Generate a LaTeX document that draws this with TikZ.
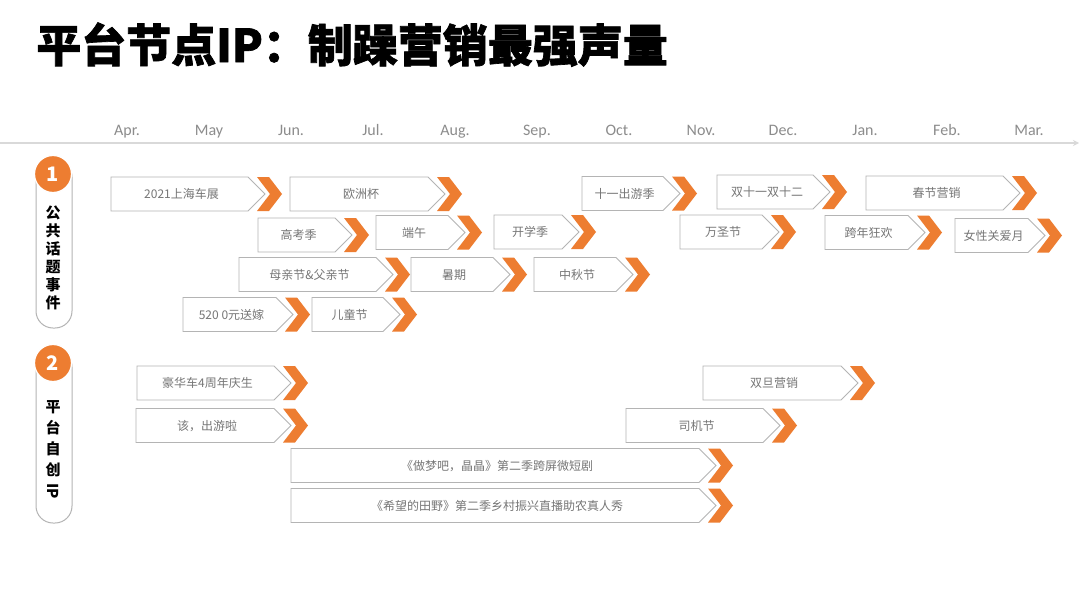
\documentclass[tikz,border=0pt]{standalone}
\usepackage{fontspec}
\setmainfont{Carlito}
\newfontfamily\cjk{Noto Sans CJK SC}
\newfontfamily\cjkheavy{Noto Sans CJK SC}[FakeBold=1.5]
\usetikzlibrary{arrows.meta}
\definecolor{myorange}{HTML}{ED7D31}
\definecolor{boxgray}{HTML}{B4B4B4}
\definecolor{txtgray}{HTML}{767676}
\definecolor{axisgray}{HTML}{D9D9D9}
\definecolor{monthgray}{HTML}{8C8C8C}
\tikzset{
  boxline/.style={draw=boxgray, line width=0.9pt, fill=white, line join=miter},
  chev/.style={fill=myorange},
  evtext/.style={anchor=base, inner sep=0pt, text=txtgray, font=\cjk\fontsize{12}{12}\selectfont},
  month/.style={anchor=base, inner sep=0pt, text=monthgray, font=\fontsize{16}{16}\selectfont},
  vlabel/.style={anchor=base, inner sep=0pt, text=black, font=\cjk\bfseries\fontsize{15}{15}\selectfont},
  badge/.style={circle, fill=myorange, draw=white, line width=1.2pt, minimum size=37pt, inner sep=0pt, text=white, font=\cjk\bfseries\fontsize{20}{20}\selectfont},
  pill/.style={draw=boxgray, line width=1pt, rounded corners=17pt},
}
% #1 name, #2 left, #3 chevron tip, #4 centre y, #5 text
\newcommand\evt[5]{%
  \fill[chev] ({#3-25},{#4-17}) -- ({#3-13},{#4-17}) -- (#3,#4) -- ({#3-13},{#4+17}) -- ({#3-25},{#4+17}) -- ({#3-12},#4) -- cycle;
  \draw[boxline] (#2,{#4-17}) -- ({#3-34},{#4-17}) -- ({#3-17},#4) -- ({#3-34},{#4+17}) -- (#2,{#4+17}) -- cycle;
  \node[evtext] (#1) at ({(#2+#3-30)/2},{#4+4.6}) {#5};
}
\begin{document}
\begin{tikzpicture}[x=1pt,y=-1pt]
\useasboundingbox (0,0) rectangle (1080,608);
\fill[white] (0,0) rectangle (1080,608);

% title
\node[anchor=base west, inner sep=0pt, font=\cjkheavy\bfseries\fontsize{45}{45}\selectfont] (title) at (36,62) {平台节点IP：制躁营销最强声量};

% axis
\coordinate (axl) at (0,143);
\coordinate (axr) at (1079,143);
\draw[axisgray, line width=1.2pt, -{Stealth[length=6pt,width=6pt]}] (axl) -- (axr);

% months
\foreach \m [count=\i from 0] in {Apr.,May,Jun.,Jul.,Aug.,Sep.,Oct.,Nov.,Dec.,Jan.,Feb.,Mar.}
  \node[month] (m\i) at ({127+82*\i},135) {\m};

% section 1 label
\draw[pill] (36,160) rectangle (72,328);
\node[badge] (b1) at (53,174) {1};
\foreach \ch [count=\i from 0] in {公,共,话,题,事,件}
  \node[vlabel] (va\i) at (53,{213+18*\i+5.7}) {\ch};

% section 2 label
\draw[pill] (36,350) rectangle (72,523);
\node[badge] (b2) at (53,363) {2};
\foreach \ch [count=\i from 0] in {平,台,自,创}
  \node[vlabel] (vb\i) at (53,{407+21*\i+5.7}) {\ch};
\node[inner sep=0pt, rotate=-90, text=black, font=\cjk\bfseries\fontsize{15}{15}\selectfont] (vbip) at (53,491) {IP};

% section 1 events
\evt{e1}{111}{282}{194}{2021上海车展}
\evt{e2}{290}{462}{194}{欧洲杯}
\evt{e3}{582}{697}{193.5}{十一出游季}
\evt{e4}{717}{847}{192}{双十一双十二}
\evt{e5}{866}{1037}{193}{春节营销}
\evt{e6}{258}{369}{235}{高考季}
\evt{e7}{376}{482}{232.5}{端午}
\evt{e8}{494}{596}{232}{开学季}
\evt{e9}{680}{796}{232}{万圣节}
\evt{e10}{825}{942}{232.5}{跨年狂欢}
\evt{e11}{955}{1062}{235.5}{女性关爱月}
\evt{e12}{239}{410}{274.5}{母亲节\&父亲节}
\evt{e13}{411}{527}{274.5}{暑期}
\evt{e14}{534}{650}{274.5}{中秋节}
\evt{e15}{183}{310}{314.5}{520 0元送嫁}
\evt{e16}{312}{417}{314.5}{儿童节}

% section 2 events
\evt{f1}{137}{308}{383}{豪华车4周年庆生}
\evt{f2}{703}{875}{383}{双旦营销}
\evt{f3}{136}{308}{425.5}{该，出游啦}
\evt{f4}{626}{797}{425.5}{司机节}
\evt{f5}{291}{733}{465.5}{《做梦吧，晶晶》第二季跨屏微短剧}
\evt{f6}{291}{733}{505.5}{《希望的田野》第二季乡村振兴直播助农真人秀}
\end{tikzpicture}
\end{document}
